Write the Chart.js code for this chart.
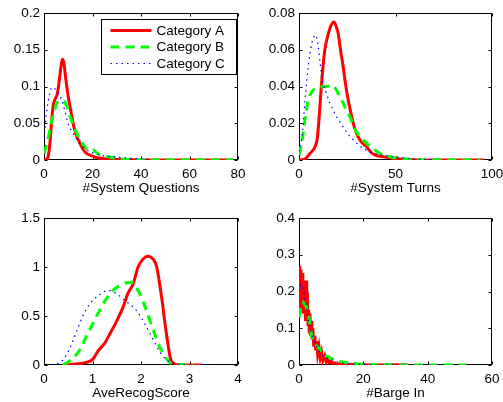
<!DOCTYPE html>
<html><head><meta charset="utf-8">
<script src="https://cdn.jsdelivr.net/npm/chart.js@4/dist/chart.umd.min.js"></script>
<style>
html,body{margin:0;padding:0;background:#fff;width:503px;height:402px;overflow:hidden}
.p{position:absolute}
</style></head><body>
<div class="p" style="left:0;top:0"><canvas id="c1" width="250" height="200"></canvas></div>
<div class="p" style="left:250px;top:0"><canvas id="c2" width="253" height="200"></canvas></div>
<div class="p" style="left:0;top:200px"><canvas id="c3" width="250" height="202"></canvas></div>
<div class="p" style="left:250px;top:200px"><canvas id="c4" width="253" height="202"></canvas></div>
<script>
// ---------- data ----------
const SERIES_NAMES = ['Category A', 'Category B', 'Category C'];

// #System Questions
const Q_X_TICKS = [0, 20, 40, 60, 80];
const Q_Y_TICKS = [0, 0.05, 0.1, 0.15, 0.2];
const Q_A = [[0,0],[1,0.001],[1.8,0.006],[2.5,0.025],[3.2,0.055],[3.8,0.074],[4.6,0.083],[5.5,0.09],[6.3,0.108],[7,0.127],[7.6,0.137],[8.2,0.132],[9,0.11],[10,0.086],[11,0.068],[12,0.05],[13,0.037],[14.5,0.025],[16,0.015],[17.5,0.009],[19.5,0.006],[22,0.003],[26,0.0015],[30,0.0008],[35,0.0002],[40,0],[78,0]];
const Q_B = [[0,0.009],[1.6,0.027],[2.8,0.048],[3.7,0.059],[5,0.075],[6,0.08],[7.5,0.081],[8.5,0.079],[9.5,0.072],[11.3,0.054],[13,0.04],[14.5,0.03],[16.8,0.018],[18.5,0.013],[20.2,0.0135],[22,0.009],[24,0.006],[27,0.004],[30,0.002],[33,0.001],[38,0.0003],[45,0],[78,0]];
const Q_C = [[0,0.029],[1,0.063],[2.3,0.09],[3.4,0.099],[4.5,0.097],[5.5,0.094],[6.5,0.088],[7.5,0.08],[8.5,0.068],[9.9,0.05],[11,0.042],[12,0.036],[13.3,0.029],[14.7,0.023],[16,0.018],[17.5,0.014],[20,0.01],[23,0.007],[26,0.005],[29.8,0.004],[33,0.003],[37,0.002],[40,0.0015],[43.6,0.001]];

// #System Turns
const T_X_TICKS = [0, 50, 100];
const T_Y_TICKS = [0, 0.02, 0.04, 0.06, 0.08];
const T_A = [[0,0],[3,0.0005],[5.7,0.0036],[8.3,0.0072],[9.5,0.012],[10.5,0.024],[11.7,0.042],[13.4,0.06],[15,0.068],[16.5,0.073],[18.1,0.0751],[19.5,0.072],[20.3,0.069],[21.5,0.06],[22.9,0.0507],[24,0.042],[25.5,0.0326],[27,0.025],[28.1,0.0199],[30,0.014],[31.6,0.0109],[33,0.009],[35,0.0072],[37,0.0045],[38.4,0.0033],[41,0.0022],[43.6,0.0018],[48,0.001],[52,0.0005],[58,0.0002],[65,0],[96,0]];
const T_B = [[0,0.0027],[1,0.007],[2.2,0.0145],[3.5,0.025],[4.8,0.0326],[6,0.036],[7.4,0.038],[10,0.0395],[14.3,0.04],[16.9,0.0407],[18.2,0.0398],[19.5,0.038],[21,0.0345],[22.9,0.031],[24.5,0.027],[26.4,0.0235],[28,0.019],[29.8,0.0154],[32,0.0122],[34.1,0.01],[36,0.0082],[38.4,0.0063],[40,0.005],[41.9,0.0036],[44,0.0027],[47,0.0018],[51,0.001],[55.7,0.0005],[62,0.0002],[70,0],[94,0]];
const T_C = [[0,0.0045],[1.4,0.011],[2.2,0.02],[3.1,0.0326],[4,0.043],[4.8,0.0507],[5.7,0.058],[6.6,0.0633],[7.5,0.0665],[8.5,0.068],[9.2,0.0665],[10,0.0615],[10.8,0.054],[11.7,0.047],[13,0.04],[14.3,0.036],[16,0.031],[17.8,0.027],[20,0.0225],[22.9,0.018],[25.5,0.014],[28.1,0.011],[30.5,0.0085],[33.3,0.0063],[36.5,0.0045],[40.2,0.0033],[44,0.0025],[48.8,0.0018],[55,0.001],[60.9,0.0005],[65,0.0003],[70,0.0001]];

// AveRecogScore
const R_X_TICKS = [0, 1, 2, 3, 4];
const R_Y_TICKS = [0, 0.5, 1, 1.5];
const R_A = [[0.39,0],[0.67,0.01],[0.87,0.027],[1.01,0.06],[1.11,0.14],[1.25,0.22],[1.35,0.31],[1.49,0.44],[1.63,0.59],[1.73,0.73],[1.84,0.83],[1.94,1.0],[2.04,1.08],[2.14,1.11],[2.25,1.08],[2.32,1.01],[2.38,0.84],[2.44,0.64],[2.49,0.44],[2.56,0.2],[2.61,0.06],[2.68,0.015],[2.8,0.003],[3.25,0]];
const R_B = [[0.39,0],[0.46,0.02],[0.6,0.07],[0.74,0.155],[0.87,0.29],[1.01,0.426],[1.15,0.56],[1.29,0.68],[1.42,0.76],[1.56,0.81],[1.7,0.84],[1.8,0.845],[1.97,0.73],[2.11,0.56],[2.25,0.36],[2.38,0.19],[2.49,0.09],[2.59,0.027],[2.69,0.008],[2.87,0.002],[3.1,0]];
const R_C = [[0.05,0],[0.25,0.008],[0.39,0.05],[0.53,0.17],[0.67,0.34],[0.8,0.5],[0.94,0.62],[1.1,0.7],[1.32,0.76],[1.49,0.73],[1.66,0.66],[1.84,0.59],[1.97,0.51],[2.11,0.39],[2.25,0.26],[2.38,0.14],[2.52,0.054],[2.66,0.02],[2.87,0.003],[3.5,0]];

// #Barge In
const B_X_TICKS = [0, 20, 40, 60];
const B_Y_TICKS = [0, 0.1, 0.2, 0.3, 0.4];
const B_A = [[0,0.15],[0.2,0.27],[0.4,0.16],[0.6,0.26],[0.8,0.15],[1.0,0.25],[1.2,0.14],[1.4,0.23],[1.6,0.15],[1.8,0.22],[2.0,0.12],[2.2,0.23],[2.4,0.13],[2.6,0.2],[2.8,0.11],[3.0,0.15],[3.2,0.09],[3.4,0.14],[3.6,0.08],[3.8,0.12],[4.0,0.07],[4.3,0.1],[4.6,0.05],[4.9,0.08],[5.2,0.04],[5.5,0.065],[5.8,0.03],[6.2,0.05],[6.6,0.02],[7.0,0.035],[7.4,0.012],[8,0.025],[8.5,0.008],[9,0.016],[9.5,0.005],[10,0.01],[10.5,0.003],[11,0.006],[12,0.002],[13,0.004],[14,0.001],[16,0.002],[18,0.0005],[20,0.001],[25,0],[30,0.0005],[34,0]];
const B_B = [[0,0.13],[0.6,0.16],[1.35,0.17],[2.2,0.16],[2.9,0.14],[3.4,0.11],[3.9,0.078],[4.8,0.062],[5.6,0.05],[6.5,0.042],[7.5,0.03],[8.5,0.024],[9.5,0.02],[10.7,0.015],[12,0.011],[13.5,0.008],[14.8,0.007],[15.5,0.008],[17,0.004],[20,0.002],[25,0.0008],[30,0],[52,0]];
const B_C = [[0,0.2],[0.5,0.22],[1,0.21],[1.5,0.2],[2,0.17],[2.5,0.15],[3,0.12],[3.5,0.1],[4,0.08],[5,0.06],[6,0.04],[7,0.03],[8,0.02],[9,0.018],[10,0.015],[12,0.008],[15,0.004],[20,0.001],[30,0],[45,0]];

// ---------- rendering ----------
Chart.defaults.font.family = "'Liberation Sans', Arial, Helvetica, sans-serif";
Chart.defaults.font.size = 13.5;
Chart.defaults.color = '#000';
Chart.defaults.animation = false;

const STYLES = [
  {borderColor:'rgb(255,0,0)', borderWidth:3, borderDash:[], order:3},
  {borderColor:'rgb(0,255,0)', borderWidth:3, borderDash:[9,6], order:2},
  {borderColor:'rgb(0,0,255)', borderWidth:1.2, borderDash:[1.5,4], order:1}
];

const boxPlugin = {
  id:'matlabBox',
  beforeDatasetsDraw(chart){
    const {ctx, chartArea:a, scales:{x, y}} = chart;
    ctx.save();
    ctx.strokeStyle = '#000'; ctx.lineWidth = 1; ctx.setLineDash([]);
    const L = Math.round(a.left)+0.5, R = Math.round(a.right)-0.5, T = Math.round(a.top)+0.5, B = Math.round(a.bottom)-0.5;
    ctx.strokeRect(L, T, R-L, B-T);
    const tl = 3;
    ctx.beginPath();
    x.ticks.forEach(t => {
      const px = Math.round(x.getPixelForValue(t.value))+0.5;
      ctx.moveTo(px, B); ctx.lineTo(px, B-tl);
      ctx.moveTo(px, T); ctx.lineTo(px, T+tl);
    });
    y.ticks.forEach(t => {
      const py = Math.round(y.getPixelForValue(t.value))+0.5;
      ctx.moveTo(L, py); ctx.lineTo(L+tl, py);
      ctx.moveTo(R, py); ctx.lineTo(R-tl, py);
    });
    ctx.stroke();
    ctx.restore();
  }
};

const legendPlugin = {
  id:'boxLegend',
  afterDraw(chart, args, opts){
    if (!opts || !opts.show) return;
    const {ctx, chartArea:a} = chart;
    const right = Math.round(a.right) - 1.5, top = Math.round(a.top) + 6.5;
    const w = 135, h = 55, left = right - w;
    ctx.save();
    ctx.fillStyle = '#fff';
    ctx.fillRect(left, top, w, h);
    ctx.strokeStyle = '#000'; ctx.lineWidth = 1; ctx.setLineDash([]);
    ctx.strokeRect(left, top, w, h);
    const rows = [11, 27.5, 44];
    chart.data.datasets.forEach((ds, i) => {
      const yy = top + rows[i];
      ctx.beginPath();
      ctx.strokeStyle = ds.borderColor; ctx.lineWidth = ds.borderWidth;
      ctx.setLineDash(ds.borderDash || []);
      ctx.moveTo(left + 9, yy); ctx.lineTo(left + 50, yy);
      ctx.stroke();
      ctx.setLineDash([]);
      ctx.fillStyle = '#000';
      ctx.font = "13.5px 'Liberation Sans', Arial, sans-serif";
      ctx.textBaseline = 'middle'; ctx.textAlign = 'left';
      ctx.fillText(ds.label, left + 55, yy + 0.5);
    });
    ctx.restore();
  }
};

function fmt(v){ return String(v); }

function makeChart(id, series, xt, yt, title, L, R, T, H, pb, tension, legend){
  const datasets = series.map((s, i) => Object.assign({
    label: SERIES_NAMES[i],
    data: s.map(p => ({x:p[0], y:p[1]})),
    pointRadius: 0, fill: false,
    tension: tension,
    cubicInterpolationMode: tension ? 'monotone' : 'default'
  }, STYLES[i]));
  return new Chart(document.getElementById(id), {
    type: 'line',
    data: {datasets},
    options: {
      responsive: false,
      devicePixelRatio: 1,
      layout: {padding: {left:0, right:R, top:T, bottom:0}},
      plugins: {legend:{display:false}, tooltip:{enabled:false}, boxLegend:{show:legend}},
      scales: {
        x: {
          type:'linear', min: xt[0], max: xt[xt.length-1],
          afterBuildTicks: s => { s.ticks = xt.map(v => ({value:v})); },
          grid:{display:false, drawTicks:false}, border:{display:false},
          ticks:{padding:6, maxRotation:0, autoSkip:false, callback: fmt},
          title:{display:true, text:title, padding:{top:0, bottom:pb}},
          afterFit: s => { s.height = H; s.paddingLeft = 0; s.paddingRight = 0; }
        },
        y: {
          type:'linear', min: yt[0], max: yt[yt.length-1],
          afterBuildTicks: s => { s.ticks = yt.map(v => ({value:v})); },
          grid:{display:false, drawTicks:false}, border:{display:false},
          ticks:{padding:4, autoSkip:false, callback: fmt},
          afterFit: s => { s.width = L; s.paddingTop = 0; s.paddingBottom = 0; }
        }
      }
    },
    plugins: [boxPlugin, legendPlugin]
  });
}

makeChart('c1', [Q_A, Q_B, Q_C], Q_X_TICKS, Q_Y_TICKS, '#System Questions', 44, 12, 13, 40, 4, 0.4, true);
makeChart('c2', [T_A, T_B, T_C], T_X_TICKS, T_Y_TICKS, '#System Turns', 49, 11, 13, 40, 4, 0.4, false);
makeChart('c3', [R_A, R_B, R_C], R_X_TICKS, R_Y_TICKS, 'AveRecogScore', 44, 12, 18, 37, 1, 0.4, false);
makeChart('c4', [B_A, B_B, B_C], B_X_TICKS, B_Y_TICKS, '#Barge In', 49, 11, 18, 37, 1, 0, false);
</script>
</body></html>
